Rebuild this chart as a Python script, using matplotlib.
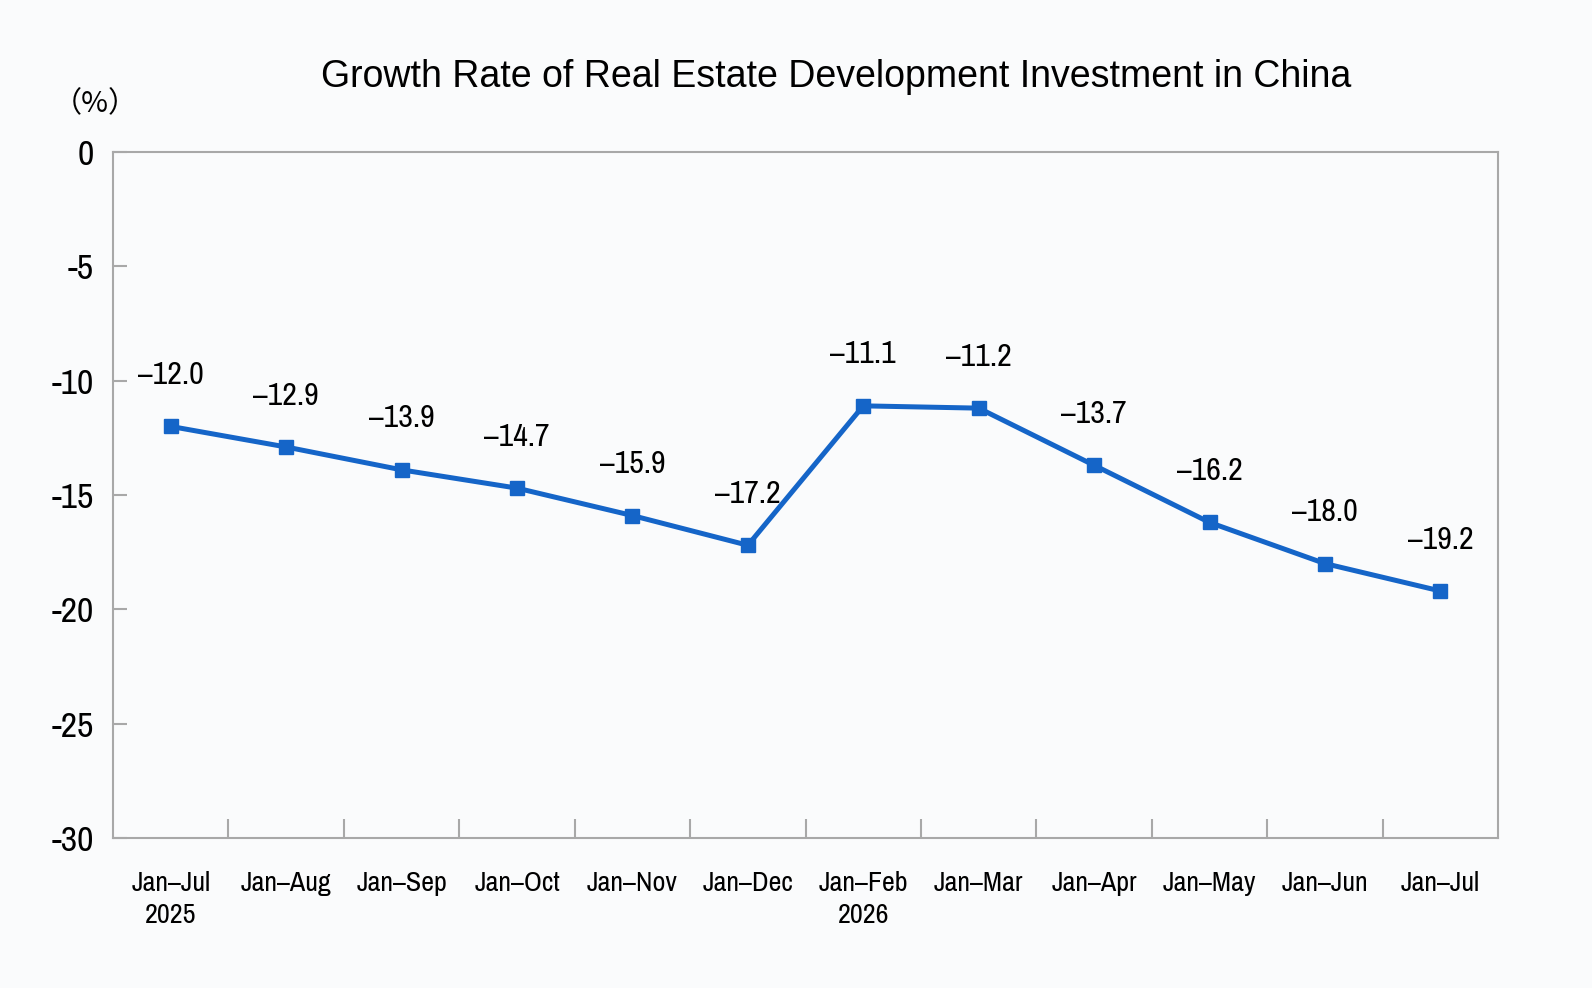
import numpy as np
import matplotlib
matplotlib.use("Agg")
import matplotlib.pyplot as plt
from matplotlib.ticker import FixedLocator

plt.rcParams['font.family'] = ['Pragati Narrow', 'Liberation Sans', 'DejaVu Sans']

periods = ['Jan–Jul\n2025', 'Jan–Aug', 'Jan–Sep', 'Jan–Oct', 'Jan–Nov', 'Jan–Dec',
           'Jan–Feb\n2026', 'Jan–Mar', 'Jan–Apr', 'Jan–May', 'Jan–Jun', 'Jan–Jul']
growth = [-12.0, -12.9, -13.9, -14.7, -15.9, -17.2, -11.1, -11.2, -13.7, -16.2, -18.0, -19.2]
y_ticks = [0, -5, -10, -15, -20, -25, -30]

bg = '#fafbfc'
blue = '#1565c8'
grey = '#a8a8a8'

fig = plt.figure(figsize=(15.92, 9.88), dpi=100, facecolor=bg)
ax = fig.add_axes([0.071, 0.152, 0.870, 0.694], facecolor=bg)

x = np.arange(len(growth))
ax.plot(x, growth, color=blue, lw=3.6, marker='s', ms=10, zorder=3)
for xi, v in zip(x, growth):
    ax.annotate(f'{v:.1f}'.replace('-', '–'), (xi, v), xytext=(0, 37),
                textcoords='offset points', ha='center', va='center', fontsize=25)

ax.set_xlim(-0.5, len(growth) - 0.5)
ax.set_ylim(-30, 0)
ax.set_yticks(y_ticks)
ax.set_yticklabels([str(t) for t in y_ticks], fontsize=28)
ax.set_xticks(x)
ax.set_xticklabels(periods, fontsize=22, linespacing=1.35, va='top')
ax.tick_params(axis='x', which='major', length=0, pad=24)
ax.xaxis.set_minor_locator(FixedLocator(np.arange(0.5, len(growth) - 1, 1.0)))
ax.tick_params(axis='x', which='minor', direction='in', length=14, width=1.5, color=grey)
ax.tick_params(axis='y', direction='in', length=10, width=1.5, color=grey, pad=14)
for s in ax.spines.values():
    s.set_color(grey)
    s.set_linewidth(1.5)

fig.text(0.525, 0.922, 'Growth Rate of Real Estate Development Investment in China',
         ha='center', va='center', fontsize=27, family=['Liberation Sans', 'DejaVu Sans'])
fig.text(0.06, 0.895, '（%）', ha='center', va='center', fontsize=21,
         family=['Noto Sans CJK SC', 'DejaVu Sans'])

fig.savefig('out.png', dpi=100, facecolor=bg)
